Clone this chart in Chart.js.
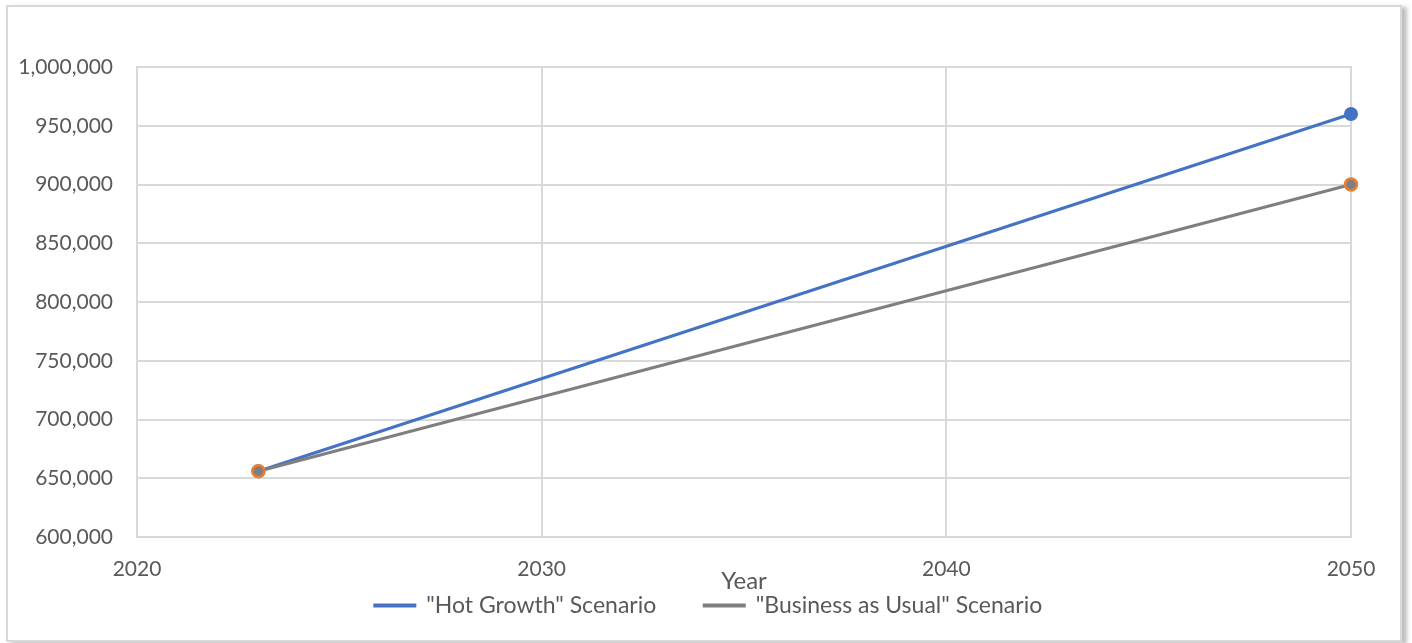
<!DOCTYPE html>
<html>
<head>
<meta charset="utf-8">
<title>Population scenarios</title>
<script src="https://cdn.jsdelivr.net/npm/chart.js@4.4.1/dist/chart.umd.min.js"></script>
<style>
    body { margin: 0; background: #ffffff; }
    #chart-box {
        position: absolute;
        left: 6px;
        top: 5px;
        width: 1392px;
        height: 633px;
        border: 2px solid #d9d9d9;
        box-shadow: 5px 2px 4px rgba(0, 0, 0, 0.25);
        background: #ffffff;
    }
</style>
</head>
<body>
<div id="chart-box">
    <canvas id="growth-chart"></canvas>
</div>
<script>
// Projected totals, start year and horizon
const years = [2023, 2050];
const hotGrowth = [656000, 960000];
const businessAsUsual = [656000, 900000];
const seriesNames = ['"Hot Growth" Scenario', '"Business as Usual" Scenario'];
const xTitle = 'Year';

const textColor = '#595959';
const gridColor = '#d9d9d9';
const family = 'Lato, "Open Sans", sans-serif';
const tickFont = { family: family, size: 21 };
const legendFont = { family: family, size: 23 };
const titleFont = { family: family, size: 24 };

const toPoints = (values) => values.map((v, i) => ({ x: years[i], y: v }));

const ctx = document.getElementById('growth-chart').getContext('2d');

new Chart(ctx, {
    type: 'line',
    data: {
        datasets: [
            {
                label: seriesNames[0],
                data: toPoints(hotGrowth),
                borderColor: '#4472c4',
                backgroundColor: '#4472c4',
                borderWidth: 3,
                pointRadius: 6,
                pointBorderWidth: 2,
                pointBackgroundColor: '#4472c4',
                pointBorderColor: '#4472c4',
                clip: false,
                order: 1,
            },
            {
                label: seriesNames[1],
                data: toPoints(businessAsUsual),
                borderColor: '#7f7f7f',
                backgroundColor: '#7f7f7f',
                borderWidth: 3,
                pointRadius: 6,
                pointBorderWidth: 2.5,
                pointBackgroundColor: '#7f7f7f',
                pointBorderColor: '#ed7d31',
                clip: false,
                order: 0, // drawn on top of the blue line
            },
        ],
    },
    options: {
        responsive: true,
        maintainAspectRatio: false,
        animation: false,
        layout: {
            padding: { left: 0, top: 60, right: 49, bottom: 0 },
        },
        plugins: {
            tooltip: { enabled: false },
            legend: {
                position: 'bottom',
                maxHeight: 56,
                labels: {
                    color: textColor,
                    font: legendFont,
                    boxWidth: 40,
                    boxHeight: 1,
                    padding: 48,
                    sort: (a, b) => a.datasetIndex - b.datasetIndex,
                },
            },
        },
        scales: {
            x: {
                type: 'linear',
                min: 2020,
                max: 2050,
                afterFit: (scale) => { scale.height = 47; },
                ticks: {
                    stepSize: 10,
                    color: textColor,
                    font: tickFont,
                    padding: 20,
                    callback: (v) => String(v),
                },
                grid: { color: gridColor, lineWidth: 2, drawTicks: false },
                border: { color: gridColor, width: 2 },
                title: {
                    display: true,
                    text: xTitle,
                    color: textColor,
                    font: titleFont,
                    padding: { top: 0, bottom: -12 },
                },
            },
            y: {
                min: 600000,
                max: 1000000,
                afterFit: (scale) => { scale.width = 129; },
                ticks: {
                    stepSize: 50000,
                    color: textColor,
                    font: tickFont,
                    padding: 24,
                    callback: (v) => v.toLocaleString('en-US'),
                },
                grid: { color: gridColor, lineWidth: 2, drawTicks: false },
                border: { color: gridColor, width: 2 },
            },
        },
    },
    plugins: [
        {
            // legend row sits right under the axis title, overlapping its box
            id: 'legendLift',
            afterLayout: (chart) => {
                const legend = chart.legend;
                legend.top -= 38;
                legend.bottom = legend.top + 90;
                legend.height = 90;
                legend.left += 29;
                legend.right += 29;
            },
        },
        {
            // frame the plot area on the top and right like the axes
            id: 'plotFrame',
            beforeDatasetsDraw: (chart) => {
                const { left, right, top, bottom } = chart.chartArea;
                const c = chart.ctx;
                c.save();
                c.strokeStyle = gridColor;
                c.lineWidth = 2;
                c.beginPath();
                c.moveTo(left, top);
                c.lineTo(right, top);
                c.lineTo(right, bottom);
                c.stroke();
                c.restore();
            },
        },
    ],
});
</script>
</body>
</html>
